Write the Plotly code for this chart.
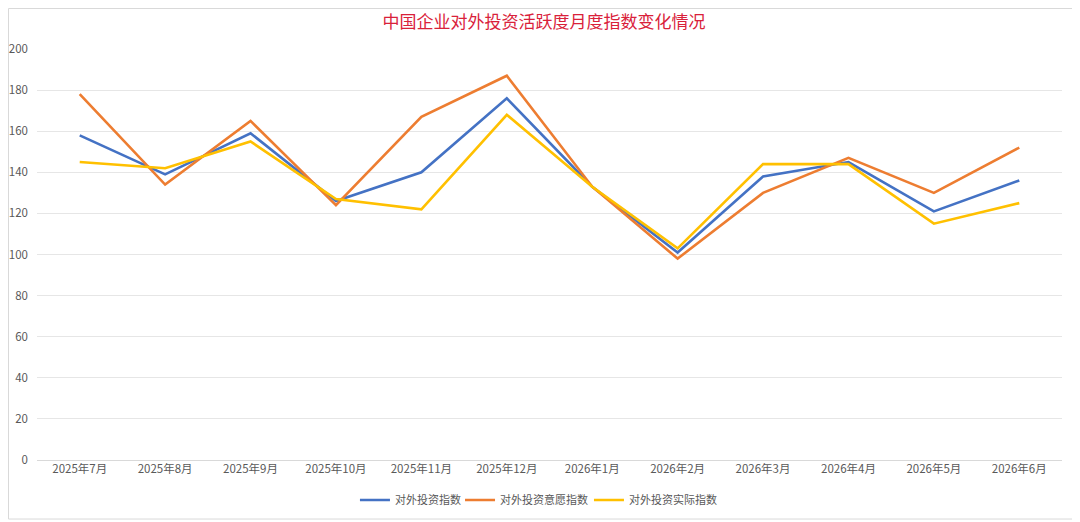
import plotly.graph_objects as go

# monthly categories
months = ["2025年7月", "2025年8月", "2025年9月", "2025年10月", "2025年11月", "2025年12月",
          "2026年1月", "2026年2月", "2026年3月", "2026年4月", "2026年5月", "2026年6月"]

# index values
invest_index = [158, 139, 159, 126, 140, 176, 133, 101, 138, 145, 121, 136]
willing_index = [178, 134, 165, 124, 167, 187, 133, 98, 130, 147, 130, 152]
actual_index = [145, 142, 155, 127, 122, 168, 133, 103, 144, 144, 115, 125]

y_ticks = [0, 20, 40, 60, 80, 100, 120, 140, 160, 180, 200]

font_family = "Noto Sans CJK SC, Noto Sans, sans-serif"

fig = go.Figure()

# one legend per series so the entries can sit as tight as in the original
series = [
    ("对外投资指数", invest_index, "#4472C4", "legend", 0.3102),
    ("对外投资意愿指数", willing_index, "#ED7D31", "legend2", 0.4127),
    ("对外投资实际指数", actual_index, "#FFC000", "legend3", 0.5385),
]
legend_style = dict(orientation="h", xanchor="left", y=-0.0973, yanchor="middle",
                    font=dict(size=11, color="#595959"), itemwidth=30,
                    bgcolor="rgba(0,0,0,0)")
legends = {}
for name, vals, color, leg, lx in series:
    fig.add_trace(go.Scatter(
        x=months, y=vals, name=name, mode="lines",
        line=dict(color=color, width=2.6), legend=leg,
    ))
    legends[leg] = dict(legend_style, x=lx)

# chart frame (spreadsheet style)
fig.add_shape(type="rect", xref="paper", yref="paper",
              x0=-0.0278, x1=1.0127, y0=-0.1436, y1=1.0985,
              line=dict(color="#d9d9d9", width=1), layer="below")

# page body has an 8px margin, so the figure is a bit smaller than the window
fig.update_layout(
    width=1072, height=514,
    margin=dict(l=29, r=18, t=41, b=62, autoexpand=False),
    paper_bgcolor="white", plot_bgcolor="white",
    font=dict(family=font_family, color="#595959", size=11.5),
    title=dict(text="中国企业对外投资活跃度月度指数变化情况",
               x=0.5, xanchor="center", y=1 - 14 / 514, yanchor="middle",
               font=dict(size=17, color="#D9213A", family=font_family)),
    xaxis=dict(type="category", range=[-0.5, len(months) - 0.5],
               showgrid=False, showline=False, ticks="", automargin=False,
               tickfont=dict(size=11.5, color="#595959")),
    yaxis=dict(range=[0, 200], tickvals=y_ticks, showgrid=True,
               gridcolor="#e6e6e6", gridwidth=1, zeroline=True,
               zerolinecolor="#d9d9d9", zerolinewidth=1, ticks="", automargin=False,
               tickfont=dict(size=11.5, color="#595959"), ticklabelstandoff=8),
    showlegend=True,
    **legends,
)

fig.write_html("out.html")
